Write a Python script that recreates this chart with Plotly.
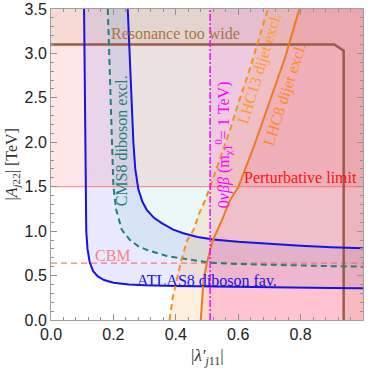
import plotly.graph_objects as go

# ---------------- data ----------------
# ATLAS8 diboson favoured band: lower/left boundary and upper/right boundary
atlas_lo_x = [0.106, 0.108, 0.110, 0.113, 0.117, 0.124, 0.135, 0.150, 0.170, 0.200, 0.250, 0.300, 0.400, 0.500, 0.600, 0.700, 0.800, 0.900, 1.000]
atlas_lo_y = [3.50, 2.50, 1.50, 1.00, 0.80, 0.65, 0.55, 0.49, 0.45, 0.42, 0.40, 0.39, 0.382, 0.376, 0.371, 0.367, 0.363, 0.360, 0.357]
atlas_hi_x = [0.246, 0.252, 0.257, 0.264, 0.270, 0.280, 0.293, 0.307, 0.330, 0.355, 0.390, 0.424, 0.470, 0.520, 0.600, 0.700, 0.800, 0.900, 1.000]
atlas_hi_y = [3.50, 3.00, 2.50, 2.00, 1.70, 1.47, 1.33, 1.24, 1.15, 1.09, 1.02, 0.977, 0.935, 0.905, 0.880, 0.855, 0.835, 0.820, 0.808]

# CMS8 diboson exclusion boundary
cms_x = [0.182, 0.186, 0.190, 0.195, 0.200, 0.209, 0.227, 0.253, 0.280, 0.307, 0.340, 0.371, 0.435, 0.510, 0.600, 0.700, 0.800, 0.900, 1.000]
cms_y = [3.50, 3.00, 2.50, 2.00, 1.50, 1.24, 1.015, 0.90, 0.83, 0.79, 0.75, 0.72, 0.685, 0.645, 0.630, 0.620, 0.612, 0.606, 0.600]

# LHC13 dijet exclusion boundary (dashed)
lhc13_x = [0.380, 0.390, 0.403, 0.418, 0.437, 0.457, 0.475, 0.494, 0.510, 0.545, 0.575, 0.604, 0.635, 0.665, 0.695]
lhc13_y = [0.00, 0.25, 0.45, 0.68, 0.90, 1.015, 1.20, 1.35, 1.50, 1.85, 2.15, 2.48, 2.80, 3.15, 3.50]

# LHC8 dijet exclusion boundary (solid)
lhc8_x = [0.480, 0.483, 0.489, 0.500, 0.519, 0.545, 0.574, 0.601, 0.650, 0.700, 0.750, 0.796]
lhc8_y = [0.00, 0.20, 0.45, 0.65, 0.90, 1.10, 1.35, 1.50, 1.95, 2.45, 2.95, 3.50]

# Resonance too wide boundary
res_x = [0.0, 0.908, 0.938, 0.938]
res_y = [3.10, 3.10, 3.03, 0.0]

pert_limit = 1.5      # perturbative limit on |A|
cbm_value = 0.64      # CBM line
nubb_value = 0.51     # 0vbb bound on |lambda'|

x_range = [0.0, 1.0]
y_range = [0.0, 3.5]
x_ticks = [0.0, 0.2, 0.4, 0.6, 0.8, 1.0]
x_tick_labels = ["0.0", "0.2", "0.4", "0.6", "0.8", "1.0"]
y_ticks = [0.0, 0.5, 1.0, 1.5, 2.0, 2.5, 3.0, 3.5]
y_tick_labels = ["0.0", "0.5", "1.0", "1.5", "2.0", "2.5", "3.0", "3.5"]

# ---------------- figure ----------------
X0, X1 = x_range
Y0, Y1 = y_range
fig = go.Figure()

def region(xs, ys, color):
    fig.add_trace(go.Scatter(x=xs, y=ys, fill="toself", fillcolor=color, mode="lines",
                             line=dict(width=0, color="rgba(0,0,0,0)"), hoverinfo="skip",
                             showlegend=False))

# perturbative region
region([X0, X1, X1, X0], [pert_limit, pert_limit, Y1, Y1], "rgba(255,60,60,0.12)")
# resonance too wide region
region([X0] + res_x + [X1, X1], [Y1] + res_y + [Y0, Y1], "rgba(200,140,90,0.14)")
# ATLAS band
region(atlas_lo_x + atlas_hi_x[::-1], atlas_lo_y + atlas_hi_y[::-1], "rgba(60,60,255,0.11)")
# CMS exclusion
region(cms_x + [X1], cms_y + [Y1], "rgba(0,170,150,0.08)")
# LHC13 exclusion
region(lhc13_x + [X1, X1], lhc13_y + [Y1, Y0], "rgba(255,150,40,0.15)")
# LHC8 exclusion
region(lhc8_x + [X1, X1], lhc8_y + [Y1, Y0], "rgba(255,60,80,0.11)")
# 0vbb exclusion
region([nubb_value, X1, X1, nubb_value], [Y0, Y0, Y1, Y1], "rgba(255,0,220,0.10)")

def line(xs, ys, color, width, dash="solid"):
    fig.add_trace(go.Scatter(x=xs, y=ys, mode="lines", line=dict(color=color, width=width, dash=dash),
                             hoverinfo="skip", showlegend=False))

line([X0, X1], [pert_limit, pert_limit], "rgba(250,90,90,0.75)", 1)
line([X0, X1], [cbm_value, cbm_value], "rgba(250,100,100,0.85)", 1.3, "6px,4px")
line(res_x, res_y, "#9a5c46", 2.5)
line(atlas_lo_x, atlas_lo_y, "#1414e6", 2)
line(atlas_hi_x, atlas_hi_y, "#1414e6", 2)
line(cms_x, cms_y, "#1f8080", 2, "6px,4px")
line(lhc13_x, lhc13_y, "#f7901e", 2, "6px,4px")
line(lhc8_x, lhc8_y, "#f07a1e", 2)
line([nubb_value, nubb_value], [Y0, Y1], "#ff00ff", 1.5, "7px,2px,2px,2px")

serif = "Liberation Serif"
def label(x, y, text, color, angle=0, size=16):
    fig.add_annotation(x=x, y=y, text=text, showarrow=False, textangle=angle,
                       font=dict(family=serif, size=size, color=color))

label(0.40, 3.22, "Resonance too wide", "#a8753f")
label(0.199, 0.73, "CBM", "#ff8080")
label(0.50, 0.45, "ATLAS8 diboson fav.", "#1414e6")
label(0.80, 1.60, "Perturbative limit", "#ff1010")
label(0.227, 2.02, "CMS8 diboson excl.", "#1f8080", -90)
label(0.552, 1.97, "0<i>νββ</i> (m<sub>χ̃1</sub><sup>0</sup>= 1 TeV)", "#ff00ff", -90)
label(0.668, 2.83, "LHC13 dijet excl.", "#ff9a2e", -73)
label(0.750, 2.53, "LHC8 dijet excl.", "#ff8a1a", -72)

# axis titles as paper-positioned annotations
fig.add_annotation(xref="paper", yref="paper", x=0.5, y=0.0, yshift=-24, yanchor="top",
                   text="|<i>λ′</i><sub><i>j</i>11</sub>|", showarrow=False,
                   font=dict(family=serif, size=17, color="#333"))
fig.add_annotation(xref="paper", yref="paper", x=0.0, xshift=-39, xanchor="center", y=0.5,
                   text="|<i>A</i><sub><i>j</i>22</sub>| [TeV]", showarrow=False, textangle=-90,
                   font=dict(family=serif, size=16, color="#333"))

axis_common = dict(showgrid=False, zeroline=False, showline=True, linecolor="#a0a0a0", linewidth=1,
                   mirror="ticks", ticks="inside", ticklen=6, tickcolor="#909090", tickwidth=1,
                   automargin=False,
                   tickfont=dict(family="Liberation Sans", size=16, color="#222"))
fig.update_xaxes(range=x_range, tickvals=x_ticks, ticktext=x_tick_labels,
                 minor=dict(dtick=0.04, ticklen=3, tickcolor="#909090", ticks="inside"),
                 **axis_common)
fig.update_yaxes(range=y_range, tickvals=y_ticks, ticktext=y_tick_labels,
                 minor=dict(dtick=0.1, ticklen=3, tickcolor="#909090", ticks="inside"),
                 **axis_common)
fig.update_layout(width=374, height=368, margin=dict(l=51, r=11, t=9, b=48),
                  plot_bgcolor="white", paper_bgcolor="white", showlegend=False)
fig.write_html("out.html", config={"displayModeBar": False},
               post_script="document.body.style.margin='0';document.body.style.overflow='hidden';")
